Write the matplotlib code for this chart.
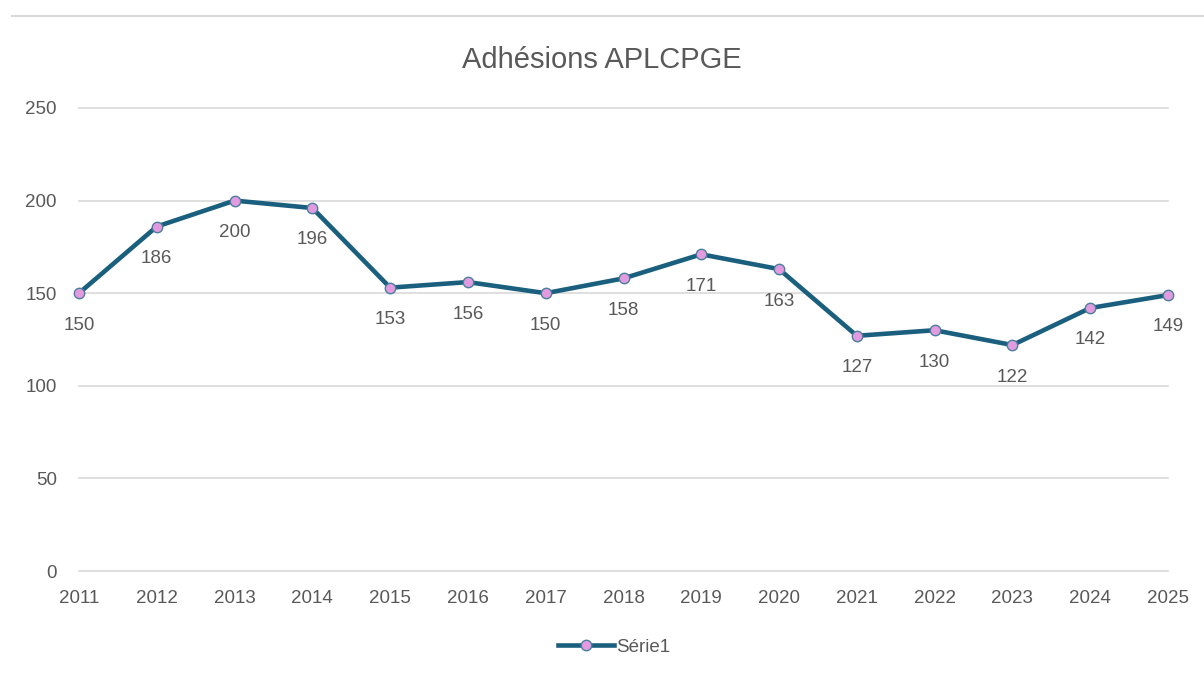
import matplotlib.pyplot as plt
import matplotlib.lines as mlines

annees = list(range(2011, 2026))
adhesions = [150, 186, 200, 196, 153, 156, 150, 158, 171, 163, 127, 130, 122, 142, 149]
yticks = [0, 50, 100, 150, 200, 250]

couleur = '#1b5f7f'
rose = '#e39be0'
gris = '#595959'

plt.rcParams['font.family'] = ['Liberation Sans', 'DejaVu Sans']

fig = plt.figure(figsize=(12.04, 6.79), dpi=100)
ax = fig.add_axes([79/1204, 1 - 571/679, (1168 - 79)/1204, (571 - 108)/679])

ax.plot(annees, adhesions, color=couleur, lw=3.3, marker='o', ms=7.5,
        mfc=rose, mec='#4a7fa0', mew=1, zorder=3, clip_on=False)

for a, v in zip(annees, adhesions):
    ax.annotate(str(v), (a, v), xytext=(0, -23), textcoords='offset points',
                ha='center', va='center', fontsize=13.5, color=gris)

ax.set_xlim(2011, 2025)
ax.set_ylim(0, 250)
ax.set_yticks(yticks)
ax.set_xticks(annees)
ax.set_xticklabels([str(a) for a in annees])
ax.grid(axis='y', color='#d9d9d9', lw=1.2)
for g in ax.get_ygridlines():
    g.set_clip_on(False)
ax.set_axisbelow(True)
for s in ax.spines.values():
    s.set_visible(False)
ax.tick_params(length=0, labelsize=13.5, colors=gris)
ax.tick_params(axis='y', pad=16)
ax.tick_params(axis='x', pad=14)

fig.text(0.5, 1 - 60/679, 'Adhésions APLCPGE', ha='center', va='center',
         fontsize=21, color=gris)

# ligne grise en haut (bord du tableur)
fig.add_artist(mlines.Line2D([0.01, 1], [1 - 16/679, 1 - 16/679],
                             color='#d9d9d9', lw=1.5))

h = mlines.Line2D([], [], color=couleur, lw=3.3, marker='o', ms=7.5,
                  mfc=rose, mec='#4a7fa0', mew=1)
fig.legend([h], ['Série1'], loc='center', bbox_to_anchor=(0.51, 1 - 647/679),
           frameon=False, fontsize=13.5, labelcolor=gris, handlelength=3,
           handletextpad=0.1)

fig.savefig('out.png', dpi=100)
